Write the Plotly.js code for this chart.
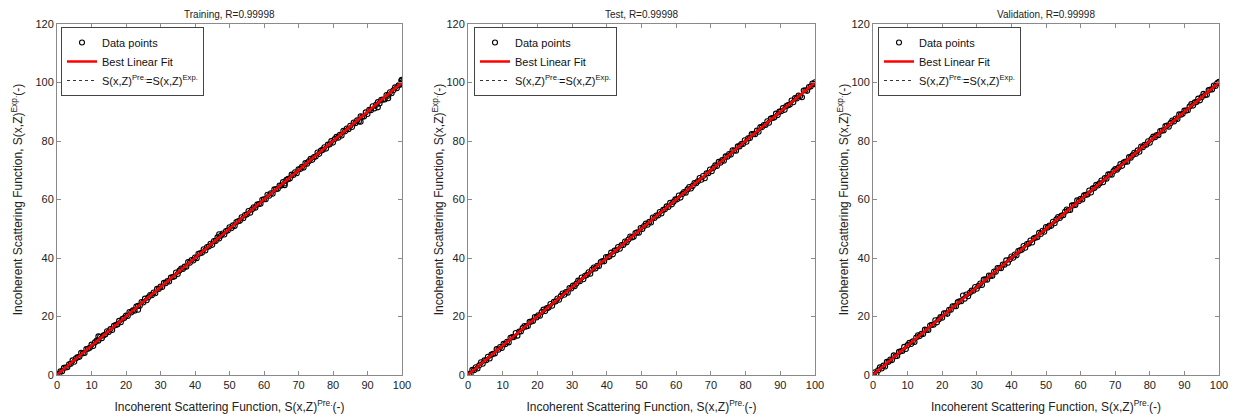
<!DOCTYPE html>
<html>
<head>
<meta charset="utf-8">
<script src="https://cdn.plot.ly/plotly-3.0.1.min.js"></script>
<style>html,body{margin:0;padding:0;background:#fff}#chart{width:1239px;height:417px}</style>
</head>
<body>
<div id="chart"></div>
<script>
// ---------- data ----------
const panelTitles = ["Training, R=0.99998", "Test, R=0.99998", "Validation, R=0.99998"];
const xTickVals = [0,10,20,30,40,50,60,70,80,90,100];
const yTickVals = [0,20,40,60,80,100,120];

const trainX = [0,0.5,1,1.5,2,2.5,3,3.5,4,4.5,5,5.5,6,6.5,7,7.5,8,8.5,9,9.5,10,10.5,11,11.5,12,12.5,13,13.5,14,14.5,15,15.5,16,16.5,17,17.5,18,18.5,19,19.5,20,20.5,21,21.5,22,22.5,23,23.5,24,24.5,25,25.5,26,26.5,27,27.5,28,28.5,29,29.5,30,30.5,31,31.5,32,32.5,33,33.5,34,34.5,35,35.5,36,36.5,37,37.5,38,38.5,39,39.5,40,40.5,41,41.5,42,42.5,43,43.5,44,44.5,45,45.5,46,46.5,47,47.5,48,48.5,49,49.5,50,50.5,51,51.5,52,52.5,53,53.5,54,54.5,55,55.5,56,56.5,57,57.5,58,58.5,59,59.5,60,60.5,61,61.5,62,62.5,63,63.5,64,64.5,65,65.5,66,66.5,67,67.5,68,68.5,69,69.5,70,70.5,71,71.5,72,72.5,73,73.5,74,74.5,75,75.5,76,76.5,77,77.5,78,78.5,79,79.5,80,80.5,81,81.5,82,82.5,83,83.5,84,84.5,85,85.5,86,86.5,87,87.5,88,88.5,89,89.5,90,90.5,91,91.5,92,92.5,93,93.5,94,94.5,95,95.5,96,96.5,97,97.5,98,98.5,99,99.5,100,99.8,100,99.9,100,12.0,23.5,47.0,66.0,88.0,93.0,96.0];
const trainY = [0.15,0.4,1.3,1.25,2.45,2.55,2.65,3.7,3.85,5.0,4.55,5.75,6.1,6.2,7.55,7.4,7.5,8.85,9.0,9.3,10.4,9.95,11.15,11.8,11.75,13.1,12.6,13.55,13.85,14.95,14.7,15.7,15.4,16.85,17.1,17.3,18.5,18.05,19.25,19.45,20.3,20.15,21.55,21.35,22.1,22.0,23.4,23.65,23.7,24.95,24.8,26.1,25.55,26.55,27.35,27.25,28.2,27.95,29.45,29.4,30.25,30.1,31.5,31.35,32.1,31.95,33.35,33.5,33.7,35.05,34.55,35.7,36.4,36.25,37.05,37.0,38.6,38.4,39.3,39.15,40.15,39.95,41.45,41.6,41.8,43.0,42.6,43.75,43.95,44.85,44.5,45.8,45.85,47.05,46.7,47.6,48.4,48.05,49.2,49.4,50.5,50.15,51.15,50.9,52.3,52.55,52.75,53.95,53.6,54.7,54.85,56.05,55.5,56.6,57.35,57.2,58.25,58.45,58.55,59.9,60.1,60.1,61.6,61.3,62.15,61.95,63.45,63.5,63.65,64.8,64.75,65.95,65.45,66.7,67.05,67.15,68.5,68.35,69.3,69.0,70.35,70.4,71.15,70.9,72.45,72.25,73.1,73.9,73.55,74.55,74.7,76.05,75.6,76.7,76.95,77.85,77.4,78.75,78.8,79.95,79.45,80.65,81.4,81.15,82.1,81.85,83.5,83.3,84.25,84.05,85.2,84.8,86.35,86.1,87.05,86.7,88.45,88.25,88.4,89.8,89.25,90.65,90.55,91.9,91.15,92.4,93.3,92.85,94.1,94.15,94.2,95.75,95.5,96.65,96.3,97.35,98.35,98.05,99.05,99.3,100.1,100.6,99.5,100.9,100.0,13.2,22.3,48.1,64.9,86.6,91.5,94.6];

const testX = [0.25,0.75,1.25,1.75,2.25,2.75,3.25,3.75,4.25,4.75,5.25,5.75,6.25,6.75,7.25,7.75,8.25,8.75,9.25,9.75,10.25,10.75,11.25,11.75,12.25,12.75,13.25,13.75,14.25,14.75,15.25,15.75,16.25,16.75,17.25,17.75,18.25,18.75,19.25,19.75,20.25,20.75,21.25,21.75,22.25,22.75,23.25,23.75,24.25,24.75,25.25,25.75,26.25,26.75,27.25,27.75,28.25,28.75,29.25,29.75,30.25,30.75,31.25,31.75,32.25,32.75,33.25,33.75,34.25,34.75,35.25,35.75,36.25,36.75,37.25,37.75,38.25,38.75,39.25,39.75,40.25,40.75,41.25,41.75,42.25,42.75,43.25,43.75,44.25,44.75,45.25,45.75,46.25,46.75,47.25,47.75,48.25,48.75,49.25,49.75,50.25,50.75,51.25,51.75,52.25,52.75,53.25,53.75,54.25,54.75,55.25,55.75,56.25,56.75,57.25,57.75,58.25,58.75,59.25,59.75,60.25,60.75,61.25,61.75,62.25,62.75,63.25,63.75,64.25,64.75,65.25,65.75,66.25,66.75,67.25,67.75,68.25,68.75,69.25,69.75,70.25,70.75,71.25,71.75,72.25,72.75,73.25,73.75,74.25,74.75,75.25,75.75,76.25,76.75,77.25,77.75,78.25,78.75,79.25,79.75,80.25,80.75,81.25,81.75,82.25,82.75,83.25,83.75,84.25,84.75,85.25,85.75,86.25,86.75,87.25,87.75,88.25,88.75,89.25,89.75,90.25,90.75,91.25,91.75,92.25,92.75,93.25,93.75,94.25,94.75,95.25,95.75,96.25,96.75,97.25,97.75,98.25,98.75,99.25,99.75,100];
const testY = [0.45,0.45,1.75,1.65,2.65,2.25,3.35,4.35,3.85,5.05,5.05,6.25,5.65,6.95,7.25,7.35,8.85,8.65,9.55,9.25,10.65,10.55,11.35,11.15,12.75,12.95,12.95,14.35,13.45,14.85,14.85,16.05,16.75,16.55,16.75,18.15,18.25,18.45,19.85,19.65,20.45,20.25,21.55,22.35,21.85,22.85,23.05,24.25,23.65,25.05,25.15,26.15,25.75,26.95,27.85,27.45,28.35,28.15,29.75,29.55,30.55,30.35,31.25,32.25,32.05,33.35,32.75,33.95,34.15,35.15,34.65,36.05,36.75,36.45,37.35,37.25,38.65,38.95,38.85,40.35,40.25,40.55,41.85,41.25,42.55,42.65,43.75,43.15,44.45,44.45,45.65,45.35,46.35,47.35,47.05,47.25,48.55,48.75,48.65,50.25,49.95,50.95,51.75,51.35,52.35,52.15,53.85,53.65,54.55,54.55,55.75,55.25,56.45,56.65,57.65,57.45,58.85,58.35,59.25,60.05,60.05,61.35,60.65,61.85,62.55,62.35,63.45,64.25,63.75,64.65,65.65,65.55,66.25,67.35,66.75,68.05,67.25,68.95,68.95,70.25,69.65,70.85,71.65,71.45,72.85,72.55,73.45,73.25,74.75,74.65,75.55,75.35,76.85,76.75,76.65,78.15,78.15,78.95,78.95,80.25,79.75,80.95,81.05,82.35,82.35,82.35,83.55,83.15,84.75,84.75,85.45,85.45,86.75,86.25,87.65,87.85,88.05,89.35,88.85,90.05,90.15,91.25,90.65,91.95,92.25,92.45,93.85,93.25,94.65,94.55,95.55,95.35,94.95,97.25,97.35,97.15,98.45,98.65,99.65,99.45,100.1];

const valX = [0,0.5,1,1.5,2,2.5,3,3.5,4,4.5,5,5.5,6,6.5,7,7.5,8,8.5,9,9.5,10,10.5,11,11.5,12,12.5,13,13.5,14,14.5,15,15.5,16,16.5,17,17.5,18,18.5,19,19.5,20,20.5,21,21.5,22,22.5,23,23.5,24,24.5,25,25.5,26,26.5,27,27.5,28,28.5,29,29.5,30,30.5,31,31.5,32,32.5,33,33.5,34,34.5,35,35.5,36,36.5,37,37.5,38,38.5,39,39.5,40,40.5,41,41.5,42,42.5,43,43.5,44,44.5,45,45.5,46,46.5,47,47.5,48,48.5,49,49.5,50,50.5,51,51.5,52,52.5,53,53.5,54,54.5,55,55.5,56,56.5,57,57.5,58,58.5,59,59.5,60,60.5,61,61.5,62,62.5,63,63.5,64,64.5,65,65.5,66,66.5,67,67.5,68,68.5,69,69.5,70,70.5,71,71.5,72,72.5,73,73.5,74,74.5,75,75.5,76,76.5,77,77.5,78,78.5,79,79.5,80,80.5,81,81.5,82,82.5,83,83.5,84,84.5,85,85.5,86,86.5,87,87.5,88,88.5,89,89.5,90,90.5,91,91.5,92,92.5,93,93.5,94,94.5,95,95.5,96,96.5,97,97.5,98,98.5,99,99.5,100];
const valY = [0.1,0.9,0.5,1.6,2.6,2.2,3.2,2.9,4.5,4.5,5.3,5.1,6.7,6.4,6.5,7.9,8.1,8.2,9.6,8.9,10.2,11.0,10.6,11.5,11.3,12.8,13.6,13.3,14.1,14.0,15.5,15.4,15.4,16.9,17.2,17.2,18.7,18.0,19.0,19.8,19.6,21.1,21.1,20.9,22.3,22.3,23.5,23.5,23.5,24.9,25.2,25.2,27.2,26.1,27.5,26.9,28.1,28.9,28.8,30.1,29.5,30.5,31.3,30.8,32.6,32.7,32.6,34.0,33.9,33.9,35.4,35.3,36.6,36.6,36.5,37.8,37.7,39.2,38.4,39.5,40.5,40.1,41.2,40.9,42.4,42.6,42.8,44.1,43.5,44.8,44.9,46.0,45.3,46.7,47.0,47.1,48.6,48.2,49.3,49.0,50.6,50.4,51.1,51.0,52.4,51.9,53.2,54.0,53.7,54.5,54.6,55.8,56.6,56.3,56.4,58.0,58.0,58.1,59.7,59.4,60.2,60.0,61.4,61.6,61.7,63.1,62.4,63.8,63.9,65.0,64.8,65.5,66.5,65.9,67.3,67.1,68.6,68.6,68.5,69.7,70.4,70.2,70.9,72.1,71.5,72.7,73.0,72.9,74.5,74.3,75.1,76.0,75.6,76.8,76.3,78.1,77.9,78.7,78.7,79.9,79.4,80.7,81.5,81.3,82.0,82.0,83.4,83.6,83.6,85.1,85.3,84.9,86.1,87.0,86.7,87.7,87.5,89.1,89.0,89.3,90.4,90.4,90.5,91.8,92.6,92.1,93.2,93.3,94.5,93.9,95.0,96.1,95.7,95.8,97.4,97.6,97.6,99.0,98.8,99.8,100.2];

const fitX = [0, 100];
const fitY = [0.05, 100.0];
const idealX = [0, 100];
const idealY = [0, 100];

const pointSets = [[trainX, trainY], [testX, testY], [valX, valY]];

// ---------- layout geometry ----------
const W = 1239, H = 417;
const xDomains = [[57/W, 402/W], [468/W, 815/W], [873/W, 1219/W]];
const yDomain = [1 - 375/H, 1 - 24/H];
const legendX = [61/W, 474/W, 878/W];
const yStandoff = [10, 0, 0];

const font = "Arial, 'Liberation Sans', sans-serif";
const traces = [];
const layout = {
  width: W, height: H,
  margin: {l: 0, r: 0, t: 0, b: 0},
  paper_bgcolor: "#fff", plot_bgcolor: "#fff",
  font: {family: font, color: "#222", size: 11},
  showlegend: true,
  annotations: []
};

for (let i = 0; i < 3; i++) {
  const s = i === 0 ? "" : String(i + 1);
  const xa = "x" + s, ya = "y" + s, lg = "legend" + s;
  traces.push({
    x: idealX, y: idealY, xaxis: xa, yaxis: ya, legend: lg, legendrank: 3,
    mode: "lines", name: "S(x,Z)<sup>Pre.</sup>=S(x,Z)<sup>Exp.</sup>",
    line: {color: "#000", width: 0.8, dash: "dot"}
  });
  traces.push({
    x: pointSets[i][0], y: pointSets[i][1], xaxis: xa, yaxis: ya, legend: lg, legendrank: 1,
    mode: "markers", name: "Data points",
    marker: {symbol: "circle-open", size: 5, color: "#000", line: {width: 1.1, color: "#000"}}
  });
  traces.push({
    x: fitX, y: fitY, xaxis: xa, yaxis: ya, legend: lg, legendrank: 2,
    mode: "lines", name: "Best Linear Fit",
    line: {color: "#ff0000", width: 2.5}
  });

  const axCommon = {
    showline: true, linecolor: "#8a8a8a", linewidth: 1, mirror: "ticks",
    ticks: "inside", ticklen: 4, tickcolor: "#8a8a8a", tickwidth: 1,
    showgrid: false, zeroline: false, tickfont: {size: 11, color: "#222"},
    fixedrange: true
  };
  layout["xaxis" + s] = Object.assign({}, axCommon, {
    domain: xDomains[i], anchor: ya, range: [0, 100], tickvals: xTickVals,
    title: {text: "Incoherent Scattering Function, S(x,Z)<sup>Pre.</sup>(-)", font: {size: 12, color: "#222"}, standoff: 12}
  });
  layout["yaxis" + s] = Object.assign({}, axCommon, {
    domain: yDomain, anchor: xa, range: [0, 120], tickvals: yTickVals,
    title: {text: "Incoherent Scattering Function, S(x,Z)<sup>Exp.</sup>(-)", font: {size: 12, color: "#222"}, standoff: yStandoff[i]}
  });
  layout[lg] = {
    x: legendX[i], y: 1 - 27/H, xanchor: "left", yanchor: "top",
    xref: "paper", yref: "paper",
    bgcolor: "#fff", bordercolor: "#444", borderwidth: 1,
    font: {size: 11, color: "#111"}, itemwidth: 30, tracegroupgap: 0,
    traceorder: "normal"
  };
  layout.annotations.push({
    text: panelTitles[i], xref: "paper", yref: "paper",
    x: (xDomains[i][0] + xDomains[i][1]) / 2, y: 1 - 22/H,
    xanchor: "center", yanchor: "bottom", showarrow: false,
    font: {size: 10, color: "#222"}
  });
}

Plotly.newPlot("chart", traces, layout, {displayModeBar: false, staticPlot: true});
</script>
</body>
</html>
